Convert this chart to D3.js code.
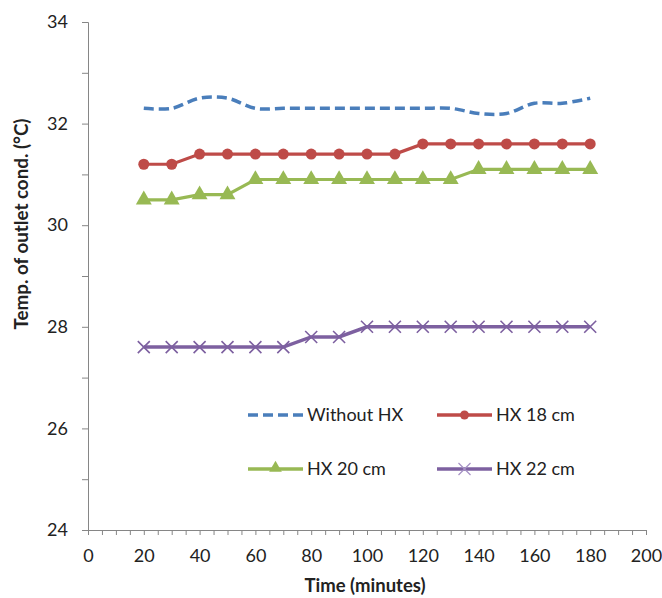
<!DOCTYPE html>
<html><head><meta charset="utf-8">
<script src="https://cdn.jsdelivr.net/npm/d3@7"></script>
<style>body{margin:0;background:#fff}svg{display:block}text{font-family:Lato,"Open Sans",sans-serif;fill:#222}</style>
</head><body>
<script>
const time = [20,30,40,50,60,70,80,90,100,110,120,130,140,150,160,170,180];
const withoutHX = [32.3,32.3,32.5,32.5,32.3,32.3,32.3,32.3,32.3,32.3,32.3,32.3,32.2,32.2,32.4,32.4,32.5];
const hx18 = [31.2,31.2,31.4,31.4,31.4,31.4,31.4,31.4,31.4,31.4,31.6,31.6,31.6,31.6,31.6,31.6,31.6];
const hx20 = [30.5,30.5,30.6,30.6,30.9,30.9,30.9,30.9,30.9,30.9,30.9,30.9,31.1,31.1,31.1,31.1,31.1];
const hx22 = [27.6,27.6,27.6,27.6,27.6,27.6,27.8,27.8,28.0,28.0,28.0,28.0,28.0,28.0,28.0,28.0,28.0];
const seriesNames = ["Without HX","HX 18 cm","HX 20 cm","HX 22 cm"];
const xTickLabels = [0,20,40,60,80,100,120,140,160,180,200];
const yTickLabels = [24,26,28,30,32,34];

const W=662,H=598;
const svg=d3.select("body").append("svg").attr("width",W).attr("height",H);
const x=d3.scaleLinear().domain([0,200]).range([88,646]);
const y=d3.scaleLinear().domain([24,34]).range([530,22]);
const axisColor="#868686";

// y axis
const yAxis=d3.axisLeft(y).tickValues(d3.range(24,34.01,1)).tickSize(6).tickPadding(14)
  .tickFormat(d=>yTickLabels.includes(d)?d:"");
const gy=svg.append("g").attr("transform","translate(88,0)").call(yAxis);
gy.select(".domain").attr("stroke",axisColor);
gy.selectAll(".tick line").attr("stroke",axisColor);
gy.selectAll(".tick text").style("font-size","18px").attr("fill","#222");

// x axis
const xAxis=d3.axisBottom(x).tickValues(d3.range(0,200.01,5)).tickSize(5).tickPadding(14)
  .tickFormat(d=>xTickLabels.includes(d)?d:"");
const gx=svg.append("g").attr("transform","translate(0,530)").call(xAxis);
gx.select(".domain").attr("stroke",axisColor);
gx.selectAll(".tick line").attr("stroke",axisColor);
gx.selectAll(".tick text").style("font-size","18px").attr("fill","#222");

// axis titles
svg.append("text").attr("x",365).attr("y",592).attr("text-anchor","middle")
  .style("font-size","18.5px").style("font-weight","bold").text("Time (minutes)");
svg.append("text").attr("transform","translate(28,224) rotate(-90)").attr("text-anchor","middle")
  .style("font-size","18.8px").style("font-weight","bold").text("Temp. of outlet cond. (°C)");

const colors={blue:"#4A7EBB",red:"#BE4B48",green:"#98B954",purple:"#7D60A0"};
const pts=arr=>time.map((t,i)=>[t,arr[i]]);
const straight=d3.line().x(d=>x(d[0])).y(d=>y(d[1]));
const smooth=d3.line().x(d=>x(d[0])).y(d=>y(d[1])).curve(d3.curveCatmullRom.alpha(0.5));

// Without HX
svg.append("path").attr("d",smooth(pts(withoutHX))).attr("fill","none").attr("stroke",colors.blue)
  .attr("stroke-width",3.5).attr("stroke-dasharray","10,5");

// HX 18
svg.append("path").attr("d",straight(pts(hx18))).attr("fill","none").attr("stroke",colors.red).attr("stroke-width",3.2);
svg.append("g").selectAll("circle").data(pts(hx18)).join("circle")
  .attr("cx",d=>x(d[0])).attr("cy",d=>y(d[1])).attr("r",5.5).attr("fill",colors.red);

// HX 20
svg.append("path").attr("d",straight(pts(hx20))).attr("fill","none").attr("stroke",colors.green).attr("stroke-width",3.2);
const tri=d3.symbol().type(d3.symbolTriangle).size(110);
svg.append("g").selectAll("path").data(pts(hx20)).join("path")
  .attr("transform",d=>`translate(${x(d[0])},${y(d[1])})`).attr("d",tri()).attr("fill",colors.green);

// HX 22
svg.append("path").attr("d",straight(pts(hx22))).attr("fill","none").attr("stroke",colors.purple).attr("stroke-width",3.5);
const xs=6;
svg.append("g").selectAll("path").data(pts(hx22)).join("path")
  .attr("d",d=>{const cx=x(d[0]),cy=y(d[1]);return `M${cx-xs},${cy-xs}L${cx+xs},${cy+xs}M${cx-xs},${cy+xs}L${cx+xs},${cy-xs}`;})
  .attr("stroke",colors.purple).attr("stroke-width",1.6).attr("fill","none");

// legend
const leg=[
 {name:seriesNames[0],x:248,y:415,c:colors.blue,m:"dash"},
 {name:seriesNames[1],x:437,y:415,c:colors.red,m:"circle"},
 {name:seriesNames[2],x:248,y:469,c:colors.green,m:"tri"},
 {name:seriesNames[3],x:437,y:469,c:colors.purple,m:"x"}];
leg.forEach(l=>{
  const g=svg.append("g");
  g.append("line").attr("x1",l.x).attr("x2",l.x+55).attr("y1",l.y).attr("y2",l.y)
   .attr("stroke",l.c).attr("stroke-width",3.5).attr("stroke-dasharray",l.m==="dash"?"10,5":null);
  const cx=l.x+27.5;
  if(l.m==="circle") g.append("circle").attr("cx",cx).attr("cy",l.y).attr("r",4.5).attr("fill",l.c);
  if(l.m==="tri") g.append("path").attr("transform",`translate(${cx},${l.y-1})`).attr("d",d3.symbol().type(d3.symbolTriangle).size(70)()).attr("fill",l.c);
  if(l.m==="x") g.append("path").attr("d",`M${cx-6},${l.y-6}L${cx+6},${l.y+6}M${cx-6},${l.y+6}L${cx+6},${l.y-6}`).attr("stroke","#a590c4").attr("stroke-width",1.2);
  g.append("text").attr("x",l.x+59).attr("y",l.y).attr("dy","0.35em").style("font-size","18px").text(l.name);
});
</script>
</body></html>
